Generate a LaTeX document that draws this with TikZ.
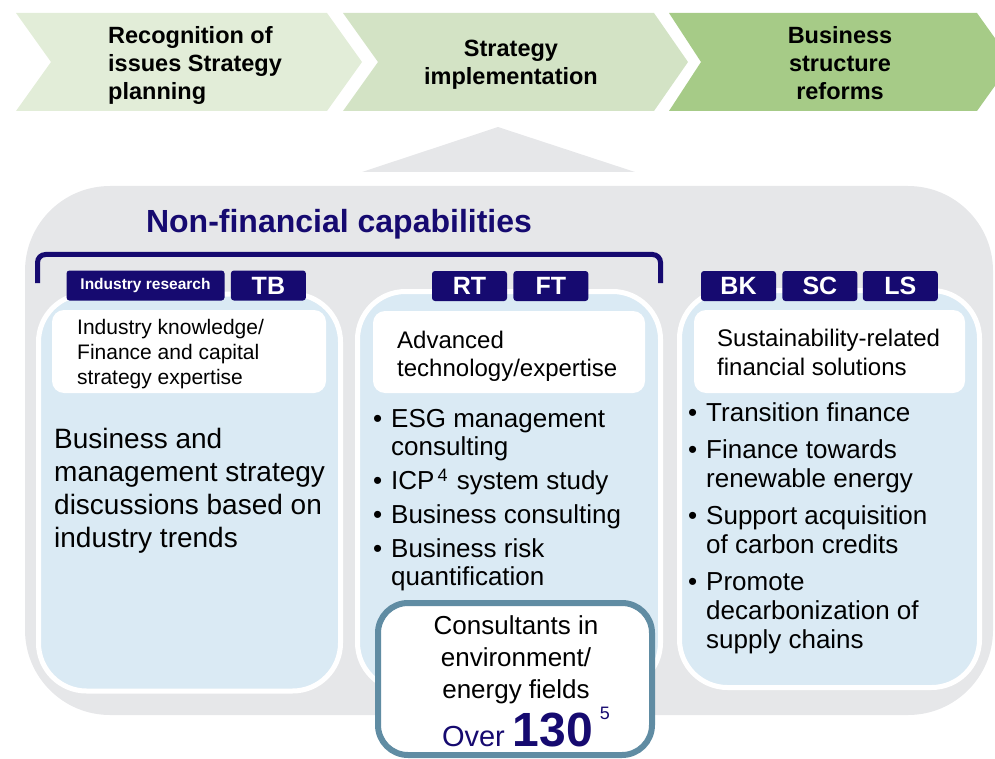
\documentclass[tikz,border=0pt]{standalone}
\usepackage{fontspec}
\setmainfont{Liberation Sans}
\usetikzlibrary{positioning}
\definecolor{navy}{RGB}{22,10,112}
\definecolor{panelgray}{RGB}{230,231,233}
\definecolor{colblue}{RGB}{218,234,244}
\definecolor{steelblue}{RGB}{96,140,163}
\definecolor{stageone}{RGB}{226,237,216}
\definecolor{stagetwo}{RGB}{211,227,197}
\definecolor{stagethree}{RGB}{166,203,135}

\newcommand{\fsz}[2]{\fontsize{#1}{#2}\selectfont}
\newcommand{\bul}{\makebox[18pt][l]{\textbullet}}
\newcommand{\ind}{\hspace*{18pt}}

\begin{document}
\begin{tikzpicture}[x=1pt, y=-1pt,
  tab/.style={rectangle, rounded corners=3pt, fill=navy, text=white, font=\fsz{25}{25}\bfseries, minimum height=30pt, minimum width=75pt, inner sep=0pt},
  colbox/.style={rectangle, rounded corners=48pt, fill=colblue, draw=white, line width=5pt, minimum width=302pt, minimum height=397pt, inner sep=0pt},
  headbox/.style={rectangle, rounded corners=12pt, fill=white, minimum width=273pt, minimum height=83pt, inner sep=0pt},
  txt/.style={inner sep=0pt, align=left, anchor=north west}]
\useasboundingbox (0,0) rectangle (995,759);
\clip (0,0) rectangle (995,759);

% Stages
\fill[stageone] (16,13) -- (327,13) -- (362,62) -- (327,111) -- (16,111) -- (51,62) -- cycle;
\fill[stagetwo] (343,13) -- (654,13) -- (688,62) -- (654,111) -- (343,111) -- (378,62) -- cycle;
\fill[stagethree] (669,13) -- (977,13) -- (1012,62) -- (977,111) -- (669,111) -- (701,62) -- cycle;
\node[txt, font=\fsz{23.5}{28}\bfseries] (stage1) at (108,26.2) {Recognition of\\issues Strategy\\planning};
\node[inner sep=0pt, align=center, anchor=north, font=\fsz{23.5}{28}\bfseries] (stage2) at (511,40.2) {Strategy\\implementation};
\node[inner sep=0pt, align=center, anchor=north, font=\fsz{23.5}{28}\bfseries] (stage3) at (840,26.2) {Business\\structure\\reforms};

% Pointer and panel
\fill[panelgray] (498,127) -- (635,172) -- (362,172) -- cycle;
\fill[panelgray, rounded corners=85pt] (25,186) rectangle (993,715);

% Title and bracket
\node[font=\fsz{32}{32}\bfseries, text=navy, anchor=base] (title) at (339,233) {Non-financial capabilities};
\draw[navy, line width=5pt, rounded corners=8pt] (37.5,283) -- (37.5,254.5) -- (660.5,254.5) -- (660.5,283);

% Columns
\node[colbox] (col1) at (189.5,492.5) {};
\node[colbox, minimum width=303pt, minimum height=399pt] (col2) at (509,491) {};
\node[colbox, minimum width=300pt] (col3) at (829.5,489) {};

% Tabs
\node[tab, minimum width=158pt, font=\fsz{15.5}{15.5}\bfseries] (indres) at (145.5,285.5) {Industry research};
\node[tab, right=6pt of indres] (tb) {TB};
\node[tab] (rt) at (469.5,286) {RT};
\node[tab, right=6pt of rt] (ft) {FT};
\node[tab] (bk) at (738.5,286) {BK};
\node[tab, right=6pt of bk] (sc) {SC};
\node[tab, right=5pt of sc] (ls) {LS};

% Header boxes
\node[headbox, minimum width=274pt] (head1) at (189,351.5) {};
\node[headbox, minimum width=272pt, minimum height=82pt] (head2) at (509,352) {};
\node[headbox, minimum width=271pt] (head3) at (829.5,351.5) {};
\node[txt, font=\fsz{21}{25}] (headtxt1) at (77,318.7) {Industry knowledge/\\Finance and capital\\strategy expertise};
\node[txt, font=\fsz{24}{28}] (headtxt2) at (397,330.5) {Advanced\\technology/expertise};
\node[txt, font=\fsz{24}{29}] (headtxt3) at (717,328.5) {Sustainability-related\\financial solutions};

% Column texts
\node[txt, font=\fsz{28}{33}] (body1) at (54,427.6) {Business and\\management strategy\\discussions based on\\industry trends};
\node[txt, font=\fsz{26}{28}] (list2) at (373,409) {\bul ESG management\\\ind consulting\\[6pt]\bul ICP\hspace{3pt}\smash{\raisebox{8pt}{\fsz{18}{18}4}}\hspace{2pt} system study\\[6pt]\bul Business consulting\\[6pt]\bul Business risk\\\ind quantification};
\node[txt, font=\fsz{26}{29}] (list3) at (688,402) {\bul Transition finance\\[8pt]\bul Finance towards\\\ind renewable energy\\[8pt]\bul Support acquisition\\\ind of carbon credits\\[8pt]\bul Promote\\\ind decarbonization of\\\ind supply chains};

% Consultants
\node[draw=steelblue, line width=6pt, fill=white, rounded corners=30pt, minimum width=274pt, minimum height=152pt, inner sep=0pt] (consult) at (515,679) {};
\node[inner sep=0pt, align=center, anchor=north, font=\fsz{26}{32}] (consulttxt) at (516,615) {Consultants in\\environment/\\energy fields};
\node[inner sep=0pt, anchor=base, text=navy] (count) at (526,746) {\fsz{29}{29}Over \fsz{48}{48}\bfseries 130\hspace{7pt}\smash{\raisebox{27pt}{\fsz{18}{18}\mdseries 5}}};
\end{tikzpicture}
\end{document}
